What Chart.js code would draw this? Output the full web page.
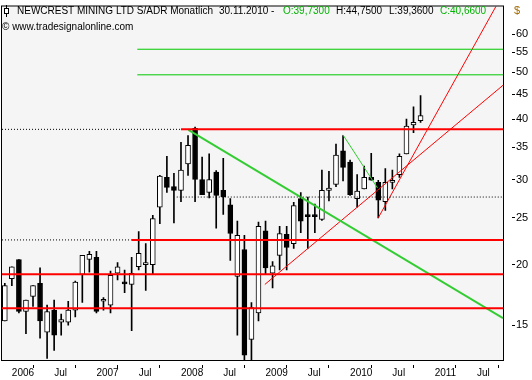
<!DOCTYPE html>
<html>
<head>
<meta charset="utf-8">
<script src="https://cdn.jsdelivr.net/npm/chart.js@4.4.0/dist/chart.umd.min.js"></script>
<style>
  html, body { margin: 0; padding: 0; background: #fff; }
  #wrap { width: 532px; height: 380px; }
</style>
</head>
<body>
<div id="wrap"><canvas id="chart" width="532" height="380"></canvas></div>
<script>
// Monthly candles, NEWCREST MINING LTD S/ADR
const months = [
  '2005-12',
  '2006-01', '2006-02', '2006-03', '2006-04', '2006-05', '2006-06', '2006-07', '2006-08', '2006-09', '2006-10', '2006-11', '2006-12',
  '2007-01', '2007-02', '2007-03', '2007-04', '2007-05', '2007-06', '2007-07', '2007-08', '2007-09', '2007-10', '2007-11', '2007-12',
  '2008-01', '2008-02', '2008-03', '2008-04', '2008-05', '2008-06', '2008-07', '2008-08', '2008-09', '2008-10', '2008-11', '2008-12',
  '2009-01', '2009-02', '2009-03', '2009-04', '2009-05', '2009-06', '2009-07', '2009-08', '2009-09', '2009-10', '2009-11', '2009-12',
  '2010-01', '2010-02', '2010-03', '2010-04', '2010-05', '2010-06', '2010-07', '2010-08', '2010-09', '2010-10', '2010-11'
];
const opens = [
  15.3,
  18.7, 20.5, 16.0, 17.2, 18.3, 14.5, 16.1, 15.2, 15.2, 16.1, 19.1, 20.5,
  20.7, 16.8, 16.5, 19.2, 18.35, 18.2, 19.8, 20.0, 20.0, 26.3, 30.3, 29.0,
  28.5, 32.3, 38.3, 30.0, 28.2, 31.1, 28.5, 26.6, 18.9, 21.5, 14.0, 15.9,
  23.5, 19.2, 20.9, 23.1, 22.1, 27.4, 25.25, 25.25, 24.8, 28.5, 29.3, 34.4,
  32.6, 27.4, 28.7, 30.3, 29.6, 27.0, 29.6, 30.7, 33.9, 38.9, 39.73
];
const highs = [
  18.3,
  19.8, 20.5, 16.9, 18.1, 19.7, 16.5, 16.9, 15.8, 16.8, 18.5, 20.9, 21.3,
  21.3, 17.1, 19.4, 20.2, 19.5, 20.7, 23.4, 22.1, 25.3, 30.6, 33.5, 30.9,
  35.8, 37.0, 38.5, 33.4, 33.9, 31.3, 33.2, 27.4, 24.6, 23.0, 16.7, 24.5,
  24.6, 20.3, 24.0, 24.0, 26.9, 28.2, 27.6, 26.7, 31.4, 31.2, 35.5, 37.0,
  32.9, 30.7, 32.0, 34.0, 29.9, 31.6, 31.4, 33.9, 40.0, 42.4, 44.75
];
const lows = [
  15.3,
  18.1, 15.9, 14.4, 16.4, 14.1, 12.8, 13.3, 14.3, 15.0, 15.6, 16.7, 19.3,
  15.9, 16.1, 15.9, 18.6, 17.5, 14.6, 19.5, 17.7, 19.1, 24.3, 28.2, 24.4,
  27.0, 30.6, 27.0, 27.9, 27.5, 23.8, 25.4, 20.4, 14.3, 12.7, 12.7, 15.3,
  19.1, 17.9, 19.5, 19.5, 21.6, 23.3, 21.6, 23.3, 24.7, 27.1, 29.0, 29.8,
  27.8, 26.3, 28.7, 29.9, 25.0, 25.9, 28.7, 30.3, 33.9, 37.5, 39.36
];
const closes = [
  18.1,
  19.8, 16.0, 16.9, 18.1, 15.3, 16.0, 14.3, 15.4, 16.1, 18.4, 20.9, 21.0,
  16.0, 16.9, 19.0, 19.8, 18.25, 19.2, 21.1, 20.05, 24.9, 30.5, 28.9, 28.5,
  31.4, 35.3, 30.0, 27.9, 30.0, 27.8, 27.6, 23.2, 23.0, 13.0, 16.3, 24.0,
  19.7, 19.9, 23.2, 21.7, 26.5, 24.6, 25.15, 25.15, 28.5, 28.8, 33.7, 31.8,
  27.9, 28.4, 30.3, 29.9, 27.2, 29.6, 29.65, 33.5, 38.7, 39.4, 40.66
];

// axis
const xMin = -1.4, xMax = 69.7;          // months since Jan 2006
const xTicks = [0, 6, 12, 18, 24, 30, 36, 42, 48, 54, 60, 66];
const xTickLabels = ['2006', 'Jul', '2007', 'Jul', '2008', 'Jul', '2009', 'Jul', '2010', 'Jul', '2011', 'Jul'];
const yTicks = [15, 20, 25, 30, 35, 40, 45, 50, 55, 60];

// drawn levels and trend lines
const redLevels = [38.1, 22.5, 19.1, 16.25];
const redFrom = ['2008-01', '2007-06', null, null];
const dottedLevel = 27.6;
const dottedFrom = 23.4;
const greenLevels = [55.8, 49.4];
const greenFrom = 17.8;
const greenTrend = [[25.05, 38.0], [xMax, 15.5]];
const greenShort = [[47.0, 37.1], [51.9, 28.8]];
const redTrendFlat = [[35.9, 18.2], [xMax, 47.0]];
const redTrendSteep = [[52.0, 25.0], [xMax, 72.7]];

function monthPos(m) {
  const [yy, mm] = m.split('-').map(Number);
  return (yy - 2006) * 12 + (mm - 1);
}

const xs = months.map(monthPos);
const isUp = closes.map((c, i) => c >= opens[i]);

function seg(points, color, width, dash) {
  return {
    type: 'line',
    data: points.map(p => ({ x: p[0], y: p[1] })),
    borderColor: color,
    borderWidth: width,
    borderDash: dash || [],
    pointRadius: 0,
    tension: 0,
    order: 0,
    clip: 0,
  };
}

const lineSets = [];
redLevels.forEach((v, i) => {
  const start = redFrom[i] ? monthPos(redFrom[i]) : xMin;
  if (start > xMin) lineSets.push(seg([[xMin, v], [start, v]], '#000', 1, [1, 2]));
  lineSets.push(seg([[start, v], [xMax, v]], '#ff0000', 2));
});
lineSets.push(seg([[dottedFrom, dottedLevel], [xMax, dottedLevel]], '#000', 1, [1, 2]));
greenLevels.forEach(v => lineSets.push(seg([[greenFrom, v], [xMax, v]], '#00c800', 1)));
lineSets.push(seg(greenTrend, '#33cc33', 2));
lineSets.push(seg(greenShort, '#33cc33', 1));
lineSets.push(seg(redTrendFlat, '#ff0000', 1));
lineSets.push(seg(redTrendSteep, '#ff0000', 1));

const frame = {
  id: 'frame',
  beforeDraw(chart) {
    const { ctx, chartArea: a } = chart;
    ctx.save();
    ctx.fillStyle = '#f5f5f5';
    ctx.fillRect(a.left, a.top, a.right - a.left, a.bottom - a.top);
    ctx.restore();
  },
  afterDraw(chart) {
    const { ctx, chartArea: a } = chart;
    ctx.save();
    ctx.strokeStyle = '#000';
    ctx.lineWidth = 1;
    ctx.strokeRect(a.left - 0.5, a.top - 0.5, a.right - a.left + 1, a.bottom - a.top + 1);

    // header icon
    ctx.beginPath();
    ctx.moveTo(6.5, 5); ctx.lineTo(6.5, 17);
    ctx.stroke();
    ctx.fillStyle = '#fff';
    ctx.fillRect(4.5, 8.5, 4, 5);
    ctx.strokeRect(4.5, 8.5, 4, 5);

    ctx.font = '10px "Liberation Sans", Arial, sans-serif';
    ctx.textBaseline = 'alphabetic';
    const parts = [
      ['NEWCREST MINING LTD S/ADR Monatlich', 17, '#000'],
      ['30.11.2010 -', 219, '#000'],
      ['O:39,7300', 283, '#00b400'],
      ['H:44,7500', 336, '#000'],
      ['L:39,3600', 389, '#000'],
      ['C:40,6600', 440, '#00b400'],
    ];
    parts.forEach(([t, x, c]) => { ctx.fillStyle = c; ctx.fillText(t, x, 14); });
    ctx.fillStyle = '#000';
    ctx.fillText('\u00A9 www.tradesignalonline.com', 2, 30);

    ctx.fillStyle = '#a06a00';
    ctx.font = '11px "Liberation Sans", Arial, sans-serif';
    ctx.fillText('$', 514, 14);
    ctx.restore();
  }
};

const xFont = { family: '"Liberation Sans", Arial, sans-serif', size: 10, lineHeight: 1 };
const yFont = { family: '"Liberation Sans", Arial, sans-serif', size: 11, lineHeight: 1 };

new Chart(document.getElementById('chart'), {
  type: 'bar',
  data: {
    datasets: [
      ...lineSets,
      {
        label: 'Body',
        data: xs.map((x, i) => ({ x, y: [opens[i], closes[i]] })),
        backgroundColor: ctx => (isUp[ctx.dataIndex] ? '#ffffff' : '#000000'),
        borderColor: '#000',
        borderWidth: 1,
        borderSkipped: false,
        barThickness: 5,
        minBarLength: 2,
        grouped: false,
        order: 1,
        clip: 0,
      },
      {
        label: 'Wick',
        data: xs.map((x, i) => ({ x, y: [lows[i], highs[i]] })),
        backgroundColor: '#000',
        borderWidth: 0,
        barThickness: 1,
        grouped: false,
        order: 2,
        clip: 0,
      },
    ],
  },
  options: {
    responsive: false,
    animation: false,
    layout: { padding: { left: 2, top: 2, right: 0, bottom: 0 } },
    plugins: {
      legend: { display: false },
      tooltip: { enabled: false },
    },
    scales: {
      x: {
        type: 'linear',
        min: xMin,
        max: xMax,
        offset: false,
        afterBuildTicks: scale => { scale.ticks = xTicks.map(v => ({ value: v })); },
        afterFit: scale => { scale.height = 20; },
        border: { display: false },
        grid: {
          drawOnChartArea: false,
          tickLength: 8,
          tickColor: '#000',
          tickBorderDash: [0, 5, 3, 50],
        },
        ticks: {
          align: 'start',
          padding: 0,
          autoSkip: false,
          maxRotation: 0,
          color: '#000',
          font: xFont,
          callback: (v, i) => xTickLabels[i],
        },
      },
      y: {
        type: 'logarithmic',
        position: 'right',
        min: 12.7,
        max: 68.4,
        afterBuildTicks: scale => { scale.ticks = yTicks.map(v => ({ value: v })); },
        afterFit: scale => { scale.width = 29; },
        border: { display: false },
        grid: {
          drawOnChartArea: false,
          tickLength: 12,
          tickColor: '#000',
          tickBorderDash: [0, 9, 3, 50],
        },
        ticks: {
          padding: 1,
          color: '#000',
          font: yFont,
          callback: v => String(v),
        },
      },
    },
  },
  plugins: [frame],
});
</script>
</body>
</html>
